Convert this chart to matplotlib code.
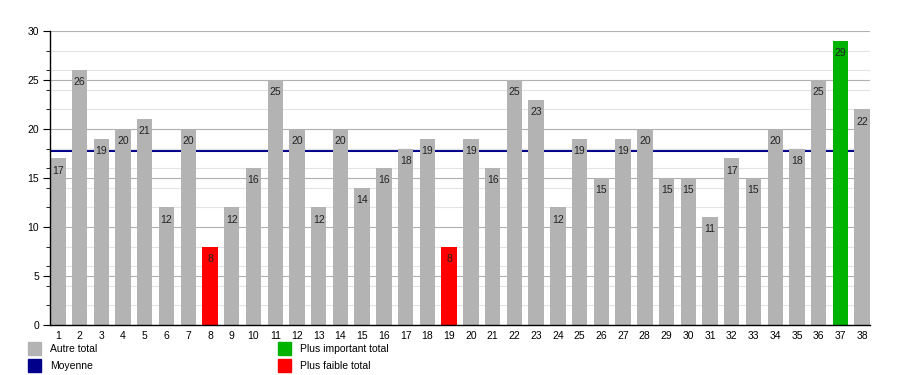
import numpy as np
import matplotlib.pyplot as plt
from matplotlib.patches import Rectangle
from matplotlib.ticker import MultipleLocator

plt.rcParams['font.family'] = ['Liberation Sans', 'DejaVu Sans']

labels = [str(i) for i in range(1, 39)]
totals = [17, 26, 19, 20, 21, 12, 20, 8, 12, 16, 25, 20, 12, 20, 14, 16, 18, 19, 8,
          19, 16, 25, 23, 12, 19, 15, 19, 20, 15, 15, 11, 17, 15, 20, 18, 25, 29, 22]

c_other = '#b3b3b3'
c_max = '#00b300'
c_min = '#ff0000'
c_mean = '#00008b'

vals = np.array(totals)
moyenne = vals.mean()
colors = []
for v in vals:
    if v == vals.max():
        colors.append(c_max)
    elif v == vals.min():
        colors.append(c_min)
    else:
        colors.append(c_other)

fig = plt.figure(figsize=(9, 3.75), dpi=100)
ax = fig.add_axes([50 / 900, 1 - 325 / 375, 820 / 900, 294 / 375])

x = np.arange(1, len(vals) + 1)
# mean line sits behind the bars
ax.axhline(moyenne, color=c_mean, linewidth=2.2, zorder=1.5)
ax.bar(x, vals, width=0.71, color=colors, zorder=2)
for xi, v in zip(x, vals):
    ax.text(xi, v - 1.25, str(v), ha='center', va='center', fontsize=7.5, color='#222222', zorder=4)

ax.set_xlim(0.64, len(vals) + 0.36)
ax.set_ylim(0, 30)
ax.set_xticks(x)
ax.set_xticklabels(labels)
ax.yaxis.set_major_locator(MultipleLocator(5))
ax.yaxis.set_minor_locator(MultipleLocator(2))
ax.grid(axis='y', which='major', color='#b0b0b0', linewidth=0.8, zorder=0)
ax.grid(axis='y', which='minor', color='#e3e3e3', linewidth=0.8, zorder=0)
ax.tick_params(axis='x', length=0, labelsize=7.5, pad=4)
ax.tick_params(axis='y', which='major', length=5, labelsize=7.5, pad=3)
ax.tick_params(axis='y', which='minor', length=3)
for s in ['top', 'right']:
    ax.spines[s].set_visible(False)
ax.spines['left'].set_linewidth(1)
ax.spines['bottom'].set_linewidth(1)

# legend drawn by hand below the axes
legend = [
    (28, 342, c_other, 'Autre total'),
    (28, 359, c_mean, 'Moyenne'),
    (278, 342, c_max, 'Plus important total'),
    (278, 359, c_min, 'Plus faible total'),
]
for lx, ly, col, txt in legend:
    fig.add_artist(Rectangle((lx / 900, 1 - (ly + 12.5) / 375), 12.5 / 900, 12.5 / 375,
                             transform=fig.transFigure, color=col))
    fig.text((lx + 22) / 900, 1 - (ly + 7) / 375, txt, fontsize=7.5, va='center', ha='left')

plt.savefig('out.png', dpi=100)
